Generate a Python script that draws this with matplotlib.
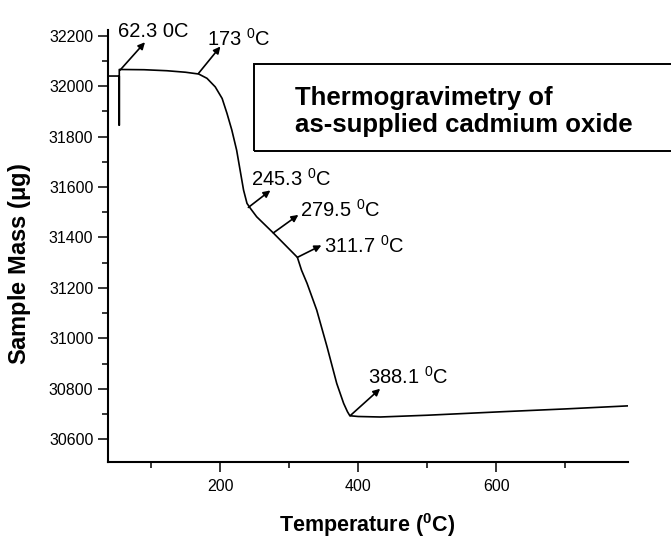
import matplotlib
matplotlib.use("Agg")
import matplotlib.pyplot as plt
from matplotlib.patches import Rectangle
from matplotlib.ticker import MultipleLocator

# TGA curve of as-supplied CdO
temp = [38, 54, 54, 54, 90, 123, 150, 169, 181, 193, 203, 210, 217, 224, 229, 234,
        239, 244, 253, 277, 312, 318, 326, 340, 355, 369, 379, 384.5, 388, 400, 432,
        500, 609, 700, 790]
mass = [32040, 32040, 31845, 32066, 32065, 32061, 32055, 32048, 32031, 31997, 31951,
        31892, 31826, 31746, 31667, 31588, 31535, 31515, 31482, 31418, 31321, 31270,
        31218, 31112, 30966, 30821, 30742, 30709, 30693, 30690, 30688, 30695, 30709,
        30720, 30732]

# labelled points on the curve (arrow start)
label_txt = ["62.3 0C", r"173 $^{0}$C", r"245.3 $^{0}$C", r"279.5 $^{0}$C",
             r"311.7 $^{0}$C", r"388.1 $^{0}$C"]
label_T = [55, 168.6, 241, 277.2, 312, 388.4]
label_m = [32063, 32050, 31519, 31418, 31321, 30693]

x_ticks = [200, 400, 600]
y_ticks = [30600, 30800, 31000, 31200, 31400, 31600, 31800, 32000, 32200]

# arrow tip / text offsets in pixels from the arrow start
arrow_off = [(25, 28), (22, 27), (22, 17), (25, 18), (24, 12), (30, 27)]
text_off = [(-2, 39), (9, 35), (3, 29), (27, 23), (27, 12), (18, 39)]

plt.rcParams['font.family'] = ['Liberation Sans', 'DejaVu Sans']
plt.rcParams['mathtext.fontset'] = 'custom'
plt.rcParams['mathtext.rm'] = 'Liberation Sans'
plt.rcParams['mathtext.it'] = 'Liberation Sans:italic'
plt.rcParams['mathtext.bf'] = 'Liberation Sans:bold'

fig = plt.figure(figsize=(6.71, 5.38), dpi=100)
ax = fig.add_axes([0.161, 0.141, 0.775, 0.803])

ax.plot(temp, mass, color='black', lw=1.2)

ax.set_xlim(37.7, 791)
ax.set_ylim(30509, 32222)
ax.set_xticks(x_ticks)
ax.set_yticks(y_ticks)
ax.xaxis.set_minor_locator(MultipleLocator(100))
ax.yaxis.set_minor_locator(MultipleLocator(100))

for s in ['top', 'right']:
    ax.spines[s].set_visible(False)
for s in ['left', 'bottom']:
    ax.spines[s].set_linewidth(1.5)

ax.tick_params(which='major', direction='out', length=7, width=1.1, labelsize=11.5, pad=3.5)
ax.tick_params(which='minor', direction='out', length=4, width=1.1)
ax.tick_params(axis='x', pad=5)

ax.set_ylabel(r"Sample Mass ($\mathregular{\mu}$g)", fontsize=17, fontweight='bold', va='center')
ax.yaxis.set_label_coords(-0.171, 0.459)
ax.set_xlabel(r"Temperature ($^{\mathbf{0}}$C)", fontsize=15.5, fontweight='bold', va='center')
ax.xaxis.set_label_coords(0.4975, -0.146)

for txt, T, m, ao, to in zip(label_txt, label_T, label_m, arrow_off, text_off):
    ax.annotate("", xy=(T, m), xytext=ao, textcoords='offset pixels',
                arrowprops=dict(arrowstyle='<|-', color='black', lw=1.2,
                                mutation_scale=10, shrinkA=0, shrinkB=0))
    ax.annotate(txt, xy=(T, m), xytext=to, textcoords='offset pixels',
                fontsize=14.5, ha='left', va='center')

# title box (runs off the right edge like the scan)
fig.patches.append(Rectangle((0.3785, 0.7199), 0.65, 0.1612, transform=fig.transFigure,
                             fill=False, edgecolor='black', lw=1.4, clip_on=False))
fig.text(0.4396, 0.8048, "Thermogravimetry of", fontsize=18.5, fontweight='bold',
         ha='left', va='baseline')
fig.text(0.4396, 0.7552, "as-supplied cadmium oxide", fontsize=18.5, fontweight='bold',
         ha='left', va='baseline')

fig.savefig("out.png", dpi=100, facecolor='white')
